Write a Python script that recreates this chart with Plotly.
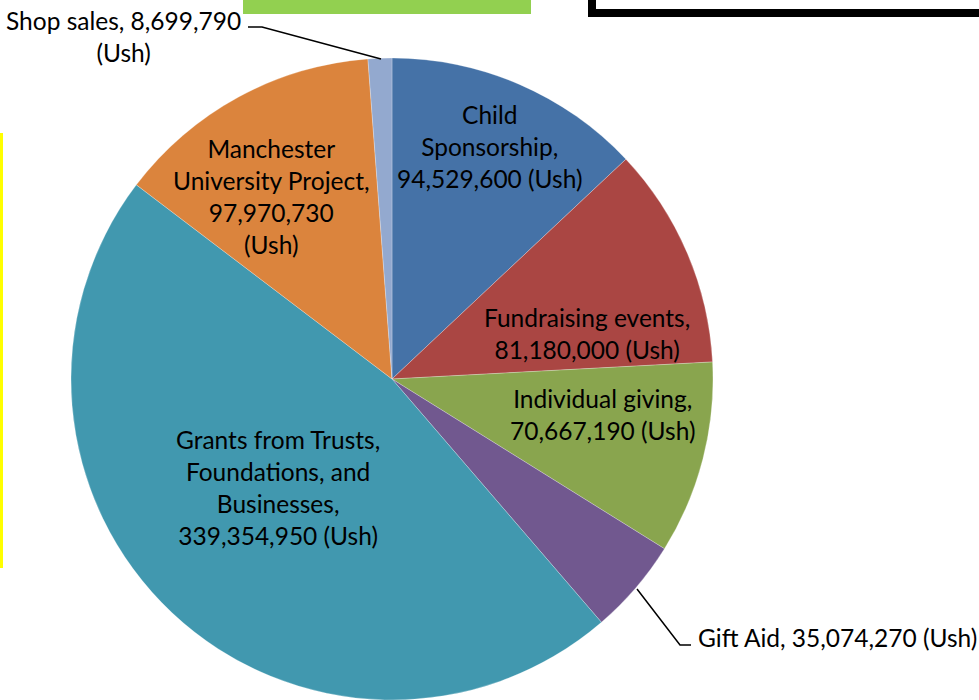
import plotly.graph_objects as go

# ---- data ----
categories = [
    "Child Sponsorship",
    "Fundraising events",
    "Individual giving",
    "Gift Aid",
    "Grants from Trusts, Foundations, and Businesses",
    "Manchester University Project",
    "Shop sales",
]
values_ush = [94529600, 81180000, 70667190, 35074270, 339354950, 97970730, 8699790]
colors = ["#4572A7", "#AA4643", "#89A54E", "#71588F", "#4198AF", "#DB843D", "#93A9CF"]

# ---- label layout (text wrapping + pixel centre of each label) ----
W, H = 979, 700
label_templates = {
    "Child Sponsorship": "Child<br>Sponsorship,<br>{v} (Ush)",
    "Fundraising events": "Fundraising events,<br>{v} (Ush)",
    "Individual giving": "Individual giving,<br>{v} (Ush)",
    "Gift Aid": "Gift Aid, {v} (Ush)",
    "Grants from Trusts, Foundations, and Businesses":
        "Grants from Trusts,<br>Foundations, and<br>Businesses,<br>{v} (Ush)",
    "Manchester University Project": "Manchester<br>University Project,<br>{v}<br>(Ush)",
    "Shop sales": "Shop sales, {v}<br>(Ush)",
}
label_pos = {  # (x, y, xanchor) in pixels from top-left
    "Child Sponsorship": (490, 146, "center"),
    "Fundraising events": (587, 333, "center"),
    "Individual giving": (602, 414, "center"),
    "Gift Aid": (696, 637, "left"),
    "Grants from Trusts, Foundations, and Businesses": (278, 487, "center"),
    "Manchester University Project": (271, 197, "center"),
    "Shop sales": (243, 37, "right"),
}
leaders = {
    "Gift Aid": [(637, 589), (680, 645), (691, 645)],
    "Shop sales": [(381, 59), (262, 27), (248, 27)],
}

FONT = "Lato, 'Open Sans', sans-serif"
FS = 24.5


def px(x, y):
    return x / W, 1 - y / H


fig = go.Figure(
    go.Pie(
        labels=categories,
        values=values_ush,
        sort=False,
        direction="clockwise",
        rotation=0,
        marker=dict(colors=colors, line=dict(color="rgba(255,255,255,0.5)", width=0.5)),
        textinfo="none",
        hoverinfo="label+value",
        showlegend=False,
        domain=dict(x=[71 / W, 713 / W], y=[0, 642 / H]),
    )
)

annotations = []
for cat, val in zip(categories, values_ush):
    x, y, xa = label_pos[cat]
    ax, ay = px(x, y)
    annotations.append(
        dict(
            x=ax, y=ay, xref="paper", yref="paper",
            text=label_templates[cat].format(v=f"{val:,}"),
            showarrow=False, xanchor=xa, yanchor="middle", align="center",
            font=dict(family=FONT, size=FS, color="#000000"),
        )
    )

shapes = []
for cat, pts in leaders.items():
    path = ""
    for i, (x, y) in enumerate(pts):
        qx, qy = px(x, y)
        path += ("M" if i == 0 else " L") + f" {qx} {qy}"
    shapes.append(dict(type="path", path=path, xref="paper", yref="paper",
                       line=dict(color="#000000", width=1.5)))

# decorative elements around the chart (cropped neighbouring objects)
x0, y0 = px(243, 0)
x1, y1 = px(531, 14)
shapes.append(dict(type="rect", xref="paper", yref="paper", x0=x0, x1=x1, y0=y1, y1=1.05,
                   fillcolor="#92D050", line=dict(width=0)))
bx0, by0 = px(592, 13)
shapes.append(dict(type="rect", xref="paper", yref="paper", x0=bx0, x1=1.1, y0=by0, y1=1.1,
                   fillcolor="rgba(0,0,0,0)", line=dict(color="#000000", width=8)))
yx0, yy0 = px(0, 133)
yx1, yy1 = px(3, 568)
shapes.append(dict(type="rect", xref="paper", yref="paper", x0=yx0, x1=yx1, y0=yy1, y1=yy0,
                   fillcolor="#FFFF00", line=dict(width=0)))

fig.update_layout(
    width=W, height=H,
    margin=dict(l=0, r=0, t=0, b=0),
    paper_bgcolor="white", plot_bgcolor="white",
    annotations=annotations,
    shapes=shapes,
)

fig.write_html("out.html")
